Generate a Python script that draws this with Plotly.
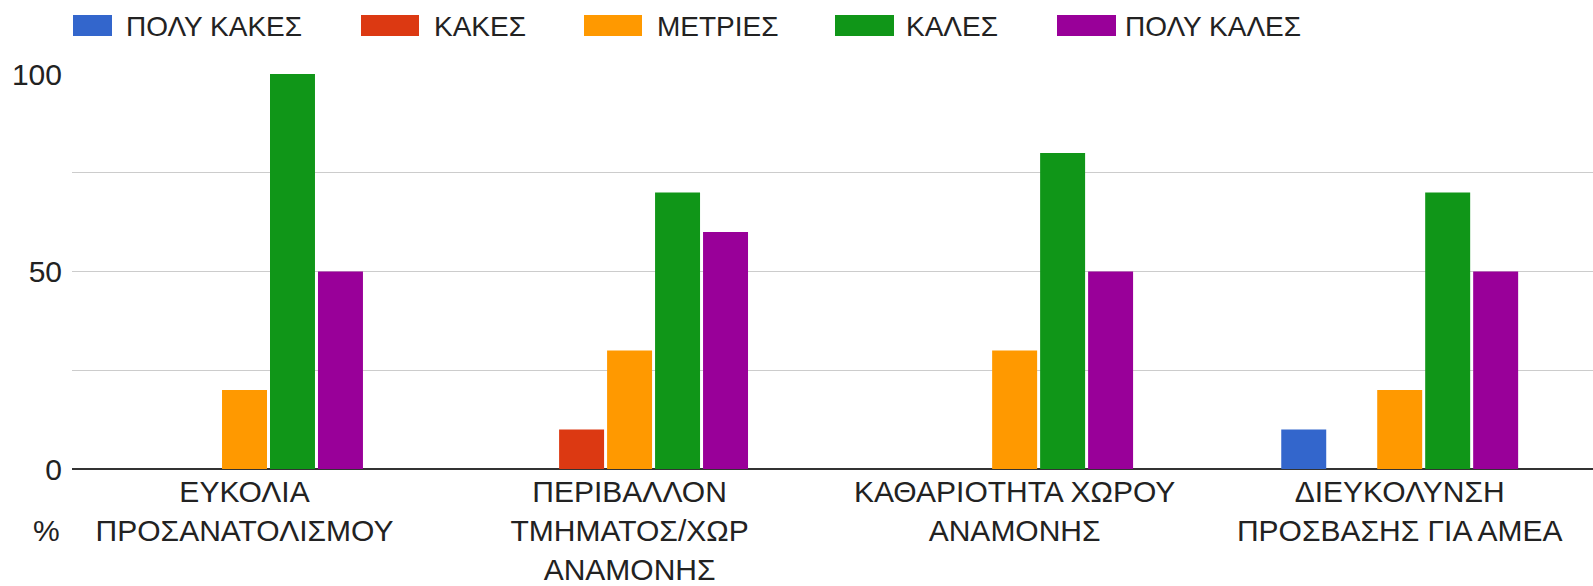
import plotly.graph_objects as go

# ---- data ----
categories = [
    "ΕΥΚΟΛΙΑ<br>ΠΡΟΣΑΝΑΤΟΛΙΣΜΟΥ",
    "ΠΕΡΙΒΑΛΛΟΝ<br>ΤΜΗΜΑΤΟΣ/ΧΩΡ<br>ΑΝΑΜΟΝΗΣ",
    "ΚΑΘΑΡΙΟΤΗΤΑ ΧΩΡΟΥ<br>ΑΝΑΜΟΝΗΣ",
    "ΔΙΕΥΚΟΛΥΝΣΗ<br>ΠΡΟΣΒΑΣΗΣ ΓΙΑ ΑΜΕΑ",
]
series_names = ["ΠΟΛΥ ΚΑΚΕΣ", "ΚΑΚΕΣ", "ΜΕΤΡΙΕΣ", "ΚΑΛΕΣ", "ΠΟΛΥ ΚΑΛΕΣ"]
poly_kakes = [0, 0, 0, 10]
kakes = [0, 10, 0, 0]
metries = [20, 30, 30, 20]
kales = [100, 70, 80, 70]
poly_kales = [50, 60, 50, 50]
y_tickvals = [0, 25, 50, 75, 100]
y_ticktext = ["0", "", "50", "", "100"]
y_title = "%"

series_values = [poly_kakes, kakes, metries, kales, poly_kales]
colors = ["#3366cc", "#dc3912", "#ff9900", "#109618", "#990099"]

W, H = 1593, 586
L, R, T, B = 72, 0, 74, 117
PW = W - L - R
PH = H - T - B

FONT = "Liberation Sans, Arial, sans-serif"

fig = go.Figure()
for name, vals, col in zip(series_names, series_values, colors):
    fig.add_trace(go.Bar(x=categories, y=vals, name=name,
                         marker=dict(color=col, line=dict(width=0)),
                         showlegend=False))


def px2x(px):
    return (px - L) / PW


def px2y(py):
    return (H - B - py) / PH


# custom legend (large swatches as in the reference)
legend_items = [
    (73, 112, 124),
    (361, 419, 432),
    (584, 642, 655),
    (835, 894, 904),
    (1057, 1116, 1123),
]
shapes = []
annotations = []
for (x0, x1, tx), name, col in zip(legend_items, series_names, colors):
    shapes.append(dict(type="rect", xref="paper", yref="paper",
                       x0=px2x(x0), x1=px2x(x1), y0=px2y(36), y1=px2y(15),
                       fillcolor=col, line=dict(width=0)))
    annotations.append(dict(xref="paper", yref="paper", x=px2x(tx), y=px2y(26),
                            xanchor="left", yanchor="middle", showarrow=False,
                            text=name, font=dict(family=FONT, size=28, color="#222222")))

annotations.append(dict(xref="paper", yref="paper", x=px2x(46), y=px2y(530),
                        xanchor="center", yanchor="middle", showarrow=False,
                        text=y_title, font=dict(family=FONT, size=30, color="#222222")))

fig.update_layout(
    width=W, height=H,
    margin=dict(l=L, r=R, t=T, b=B, pad=0, autoexpand=False),
    paper_bgcolor="white", plot_bgcolor="white",
    barmode="group", bargap=0.377, bargroupgap=0.0625,
    font=dict(family=FONT, color="#222222"),
    shapes=shapes, annotations=annotations,
    showlegend=False,
)
fig.update_xaxes(
    type="category", range=[-0.448, 3.502],
    showgrid=False, zeroline=False,
    showline=False, ticks="",
    tickfont=dict(family=FONT, size=30, color="#222222"),
    ticklabelstandoff=2, automargin=False,
)
fig.update_yaxes(
    range=[0, 100], tickvals=y_tickvals, ticktext=y_ticktext,
    showgrid=True, gridcolor="#cccccc", gridwidth=1,
    zeroline=True, zerolinecolor="#333333", zerolinewidth=2,
    showline=False, ticks="",
    tickfont=dict(family=FONT, size=30, color="#222222"),
    ticklabelstandoff=9, automargin=False,
)

fig.write_html(
    "out.html",
    config={"displayModeBar": False},
    post_script="document.body.style.margin='0';document.body.style.overflow='hidden';",
)
